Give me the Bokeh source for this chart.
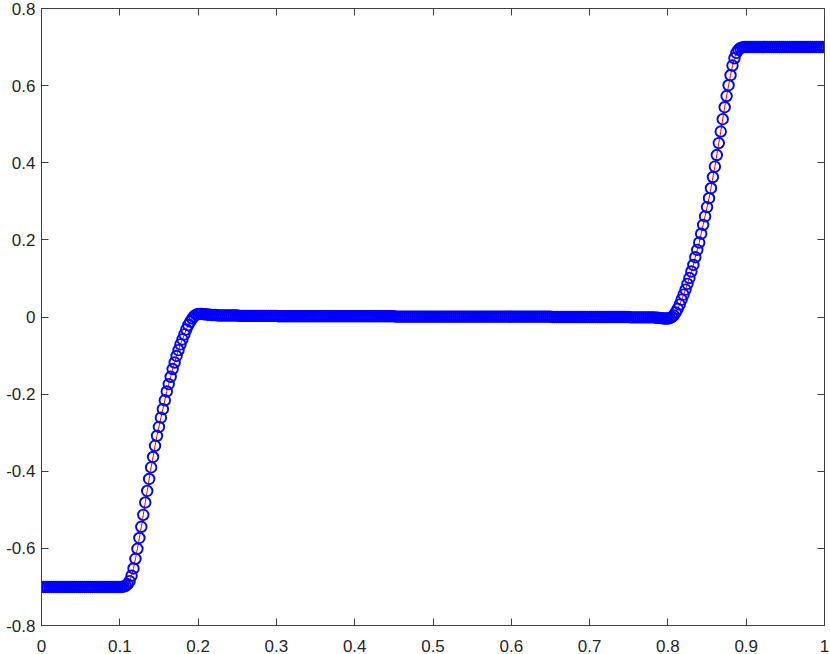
from bokeh.plotting import figure
from bokeh.models import Range1d, LinearAxis, FixedTicker
from bokeh.embed import file_html
from bokeh.resources import INLINE

# ---- data ----
x_vals = [
    0, 0.0025, 0.005, 0.0075, 0.01, 0.0125, 0.015, 0.0175, 0.02, 0.0225, 0.025, 0.0275, 0.03, 0.0325, 0.035, 0.0375, 0.04, 0.0425, 0.045, 0.0475,
    0.05, 0.0525, 0.055, 0.0575, 0.06, 0.0625, 0.065, 0.0675, 0.07, 0.0725, 0.075, 0.0775, 0.08, 0.0825, 0.085, 0.0875, 0.09, 0.0925, 0.095, 0.0975,
    0.1, 0.1025, 0.105, 0.1075, 0.11, 0.1125, 0.115, 0.1175, 0.12, 0.1225, 0.125, 0.1275, 0.13, 0.1325, 0.135, 0.1375, 0.14, 0.1425, 0.145, 0.1475,
    0.15, 0.1525, 0.155, 0.1575, 0.16, 0.1625, 0.165, 0.1675, 0.17, 0.1725, 0.175, 0.1775, 0.18, 0.1825, 0.185, 0.1875, 0.19, 0.1925, 0.195, 0.1975,
    0.2, 0.2025, 0.205, 0.2075, 0.21, 0.2125, 0.215, 0.2175, 0.22, 0.2225, 0.225, 0.2275, 0.23, 0.2325, 0.235, 0.2375, 0.24, 0.2425, 0.245, 0.2475,
    0.25, 0.2525, 0.255, 0.2575, 0.26, 0.2625, 0.265, 0.2675, 0.27, 0.2725, 0.275, 0.2775, 0.28, 0.2825, 0.285, 0.2875, 0.29, 0.2925, 0.295, 0.2975,
    0.3, 0.3025, 0.305, 0.3075, 0.31, 0.3125, 0.315, 0.3175, 0.32, 0.3225, 0.325, 0.3275, 0.33, 0.3325, 0.335, 0.3375, 0.34, 0.3425, 0.345, 0.3475,
    0.35, 0.3525, 0.355, 0.3575, 0.36, 0.3625, 0.365, 0.3675, 0.37, 0.3725, 0.375, 0.3775, 0.38, 0.3825, 0.385, 0.3875, 0.39, 0.3925, 0.395, 0.3975,
    0.4, 0.4025, 0.405, 0.4075, 0.41, 0.4125, 0.415, 0.4175, 0.42, 0.4225, 0.425, 0.4275, 0.43, 0.4325, 0.435, 0.4375, 0.44, 0.4425, 0.445, 0.4475,
    0.45, 0.4525, 0.455, 0.4575, 0.46, 0.4625, 0.465, 0.4675, 0.47, 0.4725, 0.475, 0.4775, 0.48, 0.4825, 0.485, 0.4875, 0.49, 0.4925, 0.495, 0.4975,
    0.5, 0.5025, 0.505, 0.5075, 0.51, 0.5125, 0.515, 0.5175, 0.52, 0.5225, 0.525, 0.5275, 0.53, 0.5325, 0.535, 0.5375, 0.54, 0.5425, 0.545, 0.5475,
    0.55, 0.5525, 0.555, 0.5575, 0.56, 0.5625, 0.565, 0.5675, 0.57, 0.5725, 0.575, 0.5775, 0.58, 0.5825, 0.585, 0.5875, 0.59, 0.5925, 0.595, 0.5975,
    0.6, 0.6025, 0.605, 0.6075, 0.61, 0.6125, 0.615, 0.6175, 0.62, 0.6225, 0.625, 0.6275, 0.63, 0.6325, 0.635, 0.6375, 0.64, 0.6425, 0.645, 0.6475,
    0.65, 0.6525, 0.655, 0.6575, 0.66, 0.6625, 0.665, 0.6675, 0.67, 0.6725, 0.675, 0.6775, 0.68, 0.6825, 0.685, 0.6875, 0.69, 0.6925, 0.695, 0.6975,
    0.7, 0.7025, 0.705, 0.7075, 0.71, 0.7125, 0.715, 0.7175, 0.72, 0.7225, 0.725, 0.7275, 0.73, 0.7325, 0.735, 0.7375, 0.74, 0.7425, 0.745, 0.7475,
    0.75, 0.7525, 0.755, 0.7575, 0.76, 0.7625, 0.765, 0.7675, 0.77, 0.7725, 0.775, 0.7775, 0.78, 0.7825, 0.785, 0.7875, 0.79, 0.7925, 0.795, 0.7975,
    0.8, 0.8025, 0.805, 0.8075, 0.81, 0.8125, 0.815, 0.8175, 0.82, 0.8225, 0.825, 0.8275, 0.83, 0.8325, 0.835, 0.8375, 0.84, 0.8425, 0.845, 0.8475,
    0.85, 0.8525, 0.855, 0.8575, 0.86, 0.8625, 0.865, 0.8675, 0.87, 0.8725, 0.875, 0.8775, 0.88, 0.8825, 0.885, 0.8875, 0.89, 0.8925, 0.895, 0.8975,
    0.9, 0.9025, 0.905, 0.9075, 0.91, 0.9125, 0.915, 0.9175, 0.92, 0.9225, 0.925, 0.9275, 0.93, 0.9325, 0.935, 0.9375, 0.94, 0.9425, 0.945, 0.9475,
    0.95, 0.9525, 0.955, 0.9575, 0.96, 0.9625, 0.965, 0.9675, 0.97, 0.9725, 0.975, 0.9775, 0.98, 0.9825, 0.985, 0.9875, 0.99, 0.9925, 0.995, 0.9975,
    1.0,
]

u_vals = [
    -0.7, -0.7, -0.7, -0.7, -0.7, -0.7, -0.7, -0.7, -0.7, -0.7, -0.7, -0.7, -0.7, -0.7, -0.7, -0.7, -0.7, -0.7, -0.7, -0.7,
    -0.7, -0.7, -0.7, -0.7, -0.7, -0.7, -0.7, -0.7, -0.7, -0.7, -0.7, -0.7, -0.7, -0.7, -0.7, -0.7, -0.7, -0.7, -0.7, -0.7,
    -0.7, -0.7, -0.699, -0.697, -0.693, -0.685, -0.671, -0.652, -0.627, -0.601, -0.573, -0.544, -0.513, -0.481, -0.451, -0.420, -0.390, -0.363, -0.334, -0.308,
    -0.285, -0.261, -0.239, -0.216, -0.193, -0.174, -0.155, -0.135, -0.118, -0.101, -0.086, -0.071, -0.058, -0.045, -0.032, -0.021, -0.012, -0.004, 0.002, 0.006,
    0.008, 0.008, 0.008, 0.007, 0.007, 0.006, 0.006, 0.005, 0.005, 0.005, 0.004, 0.004, 0.004, 0.004, 0.004, 0.004, 0.004, 0.004, 0.004, 0.004,
    0.004, 0.003, 0.003, 0.003, 0.003, 0.003, 0.003, 0.003, 0.003, 0.003, 0.003, 0.003, 0.003, 0.003, 0.003, 0.003, 0.003, 0.003, 0.003, 0.003,
    0.003, 0.002, 0.002, 0.002, 0.002, 0.002, 0.002, 0.002, 0.002, 0.002, 0.002, 0.002, 0.002, 0.002, 0.002, 0.002, 0.002, 0.002, 0.002, 0.002,
    0.002, 0.002, 0.002, 0.002, 0.002, 0.002, 0.002, 0.002, 0.002, 0.002, 0.002, 0.002, 0.002, 0.002, 0.002, 0.002, 0.002, 0.002, 0.002, 0.002,
    0.002, 0.002, 0.002, 0.002, 0.002, 0.002, 0.002, 0.002, 0.002, 0.002, 0.002, 0.002, 0.002, 0.002, 0.002, 0.002, 0.002, 0.002, 0.002, 0.002,
    0.002, 0.001, 0.001, 0.001, 0.001, 0.001, 0.001, 0.001, 0.001, 0.001, 0.001, 0.001, 0.001, 0.001, 0.001, 0.001, 0.001, 0.001, 0.001, 0.001,
    0.001, 0.001, 0.001, 0.001, 0.001, 0.001, 0.001, 0.001, 0.001, 0.001, 0.001, 0.001, 0.001, 0.001, 0.001, 0.001, 0.001, 0.001, 0.001, 0.001,
    0.001, 0.001, 0.001, 0.001, 0.001, 0.001, 0.001, 0.001, 0.001, 0.001, 0.001, 0.001, 0.001, 0.001, 0.001, 0.001, 0.001, 0.001, 0.001, 0.001,
    0.001, 0.001, 0.001, 0.001, 0.001, 0.001, 0.001, 0.001, 0.001, 0.001, 0.001, 0.001, 0.001, 0.001, 0.001, 0.001, 0.001, 0.001, 0.001, 0.001,
    0.001, 0.0, 0.0, 0.0, 0.0, 0.0, 0.0, 0.0, 0.0, 0.0, 0.0, 0.0, 0.0, 0.0, 0.0, 0.0, 0.0, 0.0, 0.0, 0.0,
    0.0, 0.0, 0.0, 0.0, 0.0, 0.0, 0.0, 0.0, 0.0, 0.0, 0.0, 0.0, 0.0, 0.0, 0.0, 0.0, 0.0, 0.0, 0.0, 0.0,
    0.0, -0.001, -0.001, -0.001, -0.001, -0.001, -0.001, -0.001, -0.001, -0.001, -0.001, -0.001, -0.001, -0.001, -0.002, -0.002, -0.003, -0.003, -0.004, -0.004,
    -0.004, -0.003, 0.0, 0.004, 0.012, 0.021, 0.032, 0.045, 0.058, 0.071, 0.086, 0.101, 0.118, 0.135, 0.155, 0.174, 0.193, 0.216, 0.239, 0.261,
    0.285, 0.308, 0.334, 0.363, 0.390, 0.420, 0.451, 0.481, 0.513, 0.544, 0.573, 0.601, 0.627, 0.652, 0.671, 0.685, 0.693, 0.697, 0.699, 0.7,
    0.7, 0.7, 0.7, 0.7, 0.7, 0.7, 0.7, 0.7, 0.7, 0.7, 0.7, 0.7, 0.7, 0.7, 0.7, 0.7, 0.7, 0.7, 0.7, 0.7,
    0.7, 0.7, 0.7, 0.7, 0.7, 0.7, 0.7, 0.7, 0.7, 0.7, 0.7, 0.7, 0.7, 0.7, 0.7, 0.7, 0.7, 0.7, 0.7, 0.7,
    0.7,
]

x_ticks = [0, 0.1, 0.2, 0.3, 0.4, 0.5, 0.6, 0.7, 0.8, 0.9, 1]
x_tick_labels = ["0", "0.1", "0.2", "0.3", "0.4", "0.5", "0.6", "0.7", "0.8", "0.9", "1"]
y_ticks = [-0.8, -0.6, -0.4, -0.2, 0, 0.2, 0.4, 0.6, 0.8]
y_tick_labels = ["-0.8", "-0.6", "-0.4", "-0.2", "0", "0.2", "0.4", "0.6", "0.8"]

AXIS_COLOR = "#262626"
LINE_COLOR = "#404040"
FONT = "Liberation Sans"

p = figure(
    width=830, height=654,
    output_backend="svg", toolbar_location=None,
    x_range=Range1d(0, 1), y_range=Range1d(-0.8, 0.8),
    min_border_left=41, min_border_right=6, min_border_top=8, min_border_bottom=0,
)
p.grid.visible = False
p.outline_line_color = None
p.background_fill_color = "white"
p.border_fill_color = "white"

p.add_layout(LinearAxis(), "above")
p.add_layout(LinearAxis(), "right")


def style_axis(ax, ticks, labels, show_labels, standoff):
    ax.ticker = FixedTicker(ticks=ticks, minor_ticks=[])
    ax.major_tick_in = 7
    ax.major_tick_out = 0
    ax.minor_tick_in = 0
    ax.minor_tick_out = 0
    ax.axis_line_color = LINE_COLOR
    ax.axis_line_width = 1
    ax.major_tick_line_color = LINE_COLOR
    ax.major_tick_line_width = 1
    if show_labels:
        ax.major_label_overrides = dict(zip(ticks, labels))
        ax.major_label_text_font = FONT
        ax.major_label_text_font_size = "17px"
        ax.major_label_text_color = AXIS_COLOR
        ax.major_label_standoff = standoff
    else:
        ax.major_label_overrides = {t: "" for t in ticks}
        ax.major_label_text_font_size = "0px"
        ax.major_label_standoff = 0


style_axis(p.below[0], x_ticks, x_tick_labels, True, 14)
style_axis(p.left[0], y_ticks, y_tick_labels, True, 6)
style_axis(p.above[0], x_ticks, x_tick_labels, False, 0)
style_axis(p.right[0], y_ticks, y_tick_labels, False, 0)

p.line(x_vals, u_vals, line_color="#ff0000", line_width=1)
p.scatter(x_vals, u_vals, marker="circle", size=10.5, fill_color=None,
          line_color="#0000ff", line_width=1.9)

open("out.html", "w").write(file_html(p, INLINE))
